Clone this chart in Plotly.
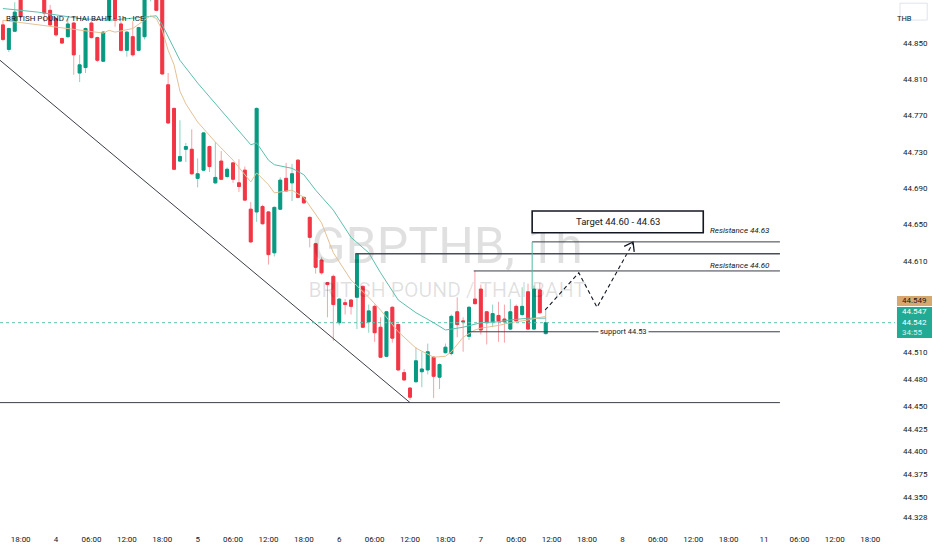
import numpy as np
import plotly.graph_objects as go

# hourly candles, x = hours counted from day 3 00:00
hours = list(range(15, 108))
opens = [44.870, 44.843, 44.863, 44.905, 44.900, 44.915, 44.903, 44.910, 44.886, 44.877,
         44.855, 44.857, 44.872, 44.817, 44.823, 44.872, 44.856, 44.830, 44.875, 44.900,
         44.871, 44.842, 44.857, 44.842, 44.857, 44.898, 44.903, 44.900, 44.804, 44.778,
         44.720, 44.733, 44.733, 44.701, 44.710, 44.736, 44.696, 44.720, 44.703, 44.718,
         44.696, 44.710, 44.667, 44.664, 44.670, 44.664, 44.619, 44.667, 44.701, 44.696,
         44.721, 44.680, 44.658, 44.629, 44.611, 44.586, 44.593, 44.542, 44.564, 44.567,
         44.570, 44.582, 44.543, 44.560, 44.537, 44.505, 44.559, 44.540, 44.487, 44.470,
         44.477, 44.488, 44.490, 44.504, 44.482, 44.509, 44.508, 44.554, 44.544, 44.527,
         44.568, 44.579, 44.554, 44.543, 44.550, 44.546, 44.535, 44.560, 44.551, 44.576,
         44.535, 44.578, 44.530]
highs = [44.875, 44.867, 44.895, 44.910, 44.920, 44.920, 44.918, 44.915, 44.892, 44.878,
         44.856, 44.877, 44.873, 44.837, 44.867, 44.874, 44.857, 44.863, 44.908, 44.905,
         44.874, 44.863, 44.874, 44.868, 44.905, 44.922, 44.910, 44.906, 44.817, 44.779,
         44.765, 44.740, 44.755, 44.723, 44.752, 44.737, 44.741, 44.731, 44.713, 44.719,
         44.722, 44.714, 44.675, 44.779, 44.672, 44.665, 44.670, 44.702, 44.718, 44.717,
         44.722, 44.681, 44.659, 44.630, 44.614, 44.587, 44.595, 44.569, 44.568, 44.568,
         44.619, 44.583, 44.562, 44.562, 44.548, 44.555, 44.560, 44.541, 44.491, 44.471,
         44.515, 44.510, 44.519, 44.505, 44.497, 44.519, 44.551, 44.570, 44.548, 44.560,
         44.599, 44.584, 44.555, 44.562, 44.565, 44.562, 44.568, 44.562, 44.581, 44.585,
         44.583, 44.586, 44.556]
lows = [44.852, 44.840, 44.863, 44.877, 44.898, 44.900, 44.899, 44.873, 44.868, 44.857,
        44.849, 44.856, 44.815, 44.807, 44.817, 44.855, 44.829, 44.829, 44.874, 44.868,
        44.841, 44.835, 44.835, 44.841, 44.854, 44.896, 44.885, 44.815, 44.761, 44.710,
        44.719, 44.719, 44.705, 44.691, 44.709, 44.708, 44.695, 44.699, 44.701, 44.696,
        44.686, 44.676, 44.630, 44.653, 44.650, 44.606, 44.615, 44.666, 44.686, 44.676,
        44.679, 44.673, 44.625, 44.596, 44.595, 44.548, 44.522, 44.539, 44.551, 44.551,
        44.535, 44.536, 44.531, 44.521, 44.503, 44.504, 44.520, 44.489, 44.478, 44.457,
        44.476, 44.471, 44.485, 44.459, 44.469, 44.508, 44.506, 44.526, 44.510, 44.523,
        44.562, 44.529, 44.518, 44.537, 44.521, 44.520, 44.534, 44.543, 44.549, 44.534,
        44.534, 44.552, 44.529]
closes = [44.854, 44.866, 44.884, 44.879, 44.915, 44.905, 44.912, 44.883, 44.870, 44.859,
          44.850, 44.871, 44.837, 44.826, 44.866, 44.856, 44.831, 44.862, 44.903, 44.875,
          44.842, 44.862, 44.837, 44.867, 44.899, 44.915, 44.886, 44.816, 44.762, 44.711,
          44.725, 44.736, 44.706, 44.706, 44.751, 44.714, 44.702, 44.700, 44.711, 44.700,
          44.692, 44.677, 44.631, 44.778, 44.651, 44.617, 44.669, 44.699, 44.687, 44.706,
          44.680, 44.674, 44.636, 44.603, 44.597, 44.584, 44.562, 44.568, 44.562, 44.560,
          44.618, 44.537, 44.555, 44.531, 44.504, 44.554, 44.525, 44.490, 44.479, 44.460,
          44.500, 44.491, 44.510, 44.483, 44.496, 44.515, 44.549, 44.540, 44.543, 44.559,
          44.563, 44.534, 44.542, 44.552, 44.544, 44.543, 44.554, 44.544, 44.560, 44.535,
          44.579, 44.553, 44.542]

# moving averages
teal_h = [15, 21, 28, 33, 38, 41, 42, 45, 48, 52, 57, 58, 60, 61, 64, 66, 68, 71, 74, 77,
          79, 82, 85, 88, 90, 93, 96, 99, 101, 104, 107]
teal_p = [44.888, 44.884, 44.877, 44.875, 44.878, 44.880, 44.870, 44.831, 44.806, 44.776,
          44.738, 44.740, 44.721, 44.716, 44.712, 44.705, 44.688, 44.666, 44.636, 44.619,
          44.597, 44.567, 44.553, 44.542, 44.534, 44.537, 44.542, 44.543, 44.545, 44.547, 44.547]
tan_h = [15, 21, 28, 32, 33, 34, 37, 39, 40, 41, 42, 43, 44, 45, 46, 48, 51, 54, 57, 58,
         60, 61, 62, 64, 66, 68, 69, 71, 74, 77, 79, 82, 85, 88, 90, 91, 93, 95, 96, 99,
         101, 104, 107]
tan_p = [44.875, 44.870, 44.864, 44.861, 44.864, 44.862, 44.866, 44.875, 44.880, 44.877,
         44.864, 44.842, 44.826, 44.797, 44.783, 44.763, 44.741, 44.721, 44.697, 44.707,
         44.694, 44.685, 44.686, 44.688, 44.680, 44.661, 44.652, 44.619, 44.589, 44.570,
         44.556, 44.532, 44.514, 44.504, 44.505, 44.510, 44.526, 44.534, 44.536, 44.539,
         44.542, 44.545, 44.549]

# axes
y_ticks = [44.850, 44.810, 44.770, 44.730, 44.690, 44.650, 44.610, 44.510, 44.480,
           44.450, 44.425, 44.400, 44.375, 44.350, 44.328]
x_tick_hours = [18, 24, 30, 36, 42, 48, 54, 60, 66, 72, 78, 84, 90, 96, 102, 108, 114, 120,
                126, 132, 138, 144, 150, 156, 162]
x_tick_text = ['18:00', '4', '06:00', '12:00', '18:00', '5', '06:00', '12:00', '18:00', '6',
               '06:00', '12:00', '18:00', '7', '06:00', '12:00', '18:00', '8', '06:00', '12:00',
               '18:00', '11', '06:00', '12:00', '18:00']

# drawings
last_price = 44.542
res_63 = 44.631
res_mid = 44.618
res_60 = 44.599
support = 44.532
floor_level = 44.454
trend_h = [14.5, 84]
trend_p = [44.831, 44.454]
path_h = [106.9, 112.6, 115.7, 121.8]
path_p = [44.556, 44.597, 44.559, 44.630]
head_h = [120.3, 121.8, 122.0]
head_p = [44.626, 44.631, 44.620]

GREEN = '#089981'
RED = '#f23645'
FONT = 'Roboto'

fig = go.Figure()

# watermark under everything
fig.add_trace(go.Scatter(x=[90.3], y=[44.622], mode='text', text=['GBPTHB, 1h'],
                         textfont=dict(size=50, color='rgba(0,0,0,0.12)', family=FONT),
                         hoverinfo='skip', showlegend=False))
fig.add_trace(go.Scatter(x=[90.3], y=[44.576], mode='text', text=['BRITISH POUND / THAI BAHT'],
                         textfont=dict(size=21, color='rgba(0,0,0,0.12)', family=FONT),
                         hoverinfo='skip', showlegend=False))

fig.add_trace(go.Scatter(x=teal_h, y=teal_p, mode='lines', line=dict(color='#5cc0ad', width=1),
                         hoverinfo='skip', showlegend=False))
fig.add_trace(go.Scatter(x=tan_h, y=tan_p, mode='lines', line=dict(color='#e3c196', width=1),
                         hoverinfo='skip', showlegend=False))

# wicks (light) then bodies (strong)
fig.add_trace(go.Candlestick(x=hours, open=opens, high=highs, low=lows, close=closes,
                             increasing=dict(line=dict(color='#8fd0c3', width=1), fillcolor='#8fd0c3'),
                             decreasing=dict(line=dict(color='#f7a3aa', width=1), fillcolor='#f7a3aa'),
                             showlegend=False))
body_hi = np.maximum(opens, closes)
body_lo = np.minimum(opens, closes)
fig.add_trace(go.Candlestick(x=hours, open=opens, high=body_hi, low=body_lo, close=closes,
                             increasing=dict(line=dict(color=GREEN, width=1), fillcolor=GREEN),
                             decreasing=dict(line=dict(color=RED, width=1), fillcolor=RED),
                             showlegend=False))

# trend lines
line_style = dict(color='#3b3e48', width=1)
fig.add_trace(go.Scatter(x=trend_h, y=trend_p, mode='lines', line=line_style,
                         hoverinfo='skip', showlegend=False))
fig.add_trace(go.Scatter(x=path_h, y=path_p, mode='lines', line=dict(color='#131722', width=1.1, dash='4px,3px'),
                         hoverinfo='skip', showlegend=False))
fig.add_trace(go.Scatter(x=head_h, y=head_p, mode='lines', line=dict(color='#131722', width=1.3),
                         hoverinfo='skip', showlegend=False))

x_end = 146.7
fig.add_shape(type='line', x0=14, x1=x_end, y0=floor_level, y1=floor_level, line=line_style)
fig.add_shape(type='line', x0=93.8, x1=x_end, y0=support, y1=support, line=line_style)
fig.add_shape(type='line', x0=94.8, x1=x_end, y0=res_60, y1=res_60, line=line_style)
fig.add_shape(type='line', x0=74.8, x1=x_end, y0=res_mid, y1=res_mid, line=dict(color='#4a4d57', width=1.5))
fig.add_shape(type='line', x0=104.7, x1=x_end, y0=res_63, y1=res_63, line=line_style)
fig.add_shape(type='line', x0=104.7, x1=104.7, y0=closes[90], y1=res_63, line=dict(color='#4fb9a4', width=1))
fig.add_shape(type='rect', x0=104.7, x1=133.7, y0=44.641, y1=44.665,
              line=dict(color='#131722', width=1.6), fillcolor='white')
fig.add_shape(type='line', xref='paper', x0=0, x1=1, y0=last_price, y1=last_price,
              line=dict(color='#5cc0ad', width=1, dash='dot'))

ann = []
ann.append(dict(x=119.2, y=44.653, text='Target 44.60 - 44.63', showarrow=False,
                font=dict(size=9.5, color='#131722', family=FONT)))
ann.append(dict(x=145.3, y=44.643, text='Resistance 44.63', showarrow=False, xanchor='right',
                font=dict(size=8, color='#131722', family=FONT, style='italic')))
ann.append(dict(x=145.3, y=44.6055, text='Resistance 44.60', showarrow=False, xanchor='right',
                font=dict(size=8, color='#131722', family=FONT, style='italic')))
ann.append(dict(x=120.1, y=support, text='support 44.53', showarrow=False, bgcolor='white',
                borderpad=1, font=dict(size=7.5, color='#131722', family=FONT)))
ann.append(dict(xref='paper', yref='paper', x=0.005, y=0.977, xanchor='left',
                text='BRITISH POUND / THAI BAHT · 1h · ICE', showarrow=False,
                font=dict(size=8, color='#131722', family=FONT)))

# right side price tags
fig.add_shape(type='rect', xref='paper', x0=1.0022, x1=1.045, y0=44.5604, y1=44.5714,
              line=dict(width=0), fillcolor='#d7a86e')
fig.add_shape(type='rect', xref='paper', x0=1.0022, x1=1.045, y0=44.5252, y1=44.5593,
              line=dict(width=0), fillcolor='#22ab94')
fig.add_shape(type='rect', xref='paper', yref='paper', x0=1.0056, x1=1.036, y0=0.962, y1=0.994,
              line=dict(color='#e0e3eb', width=1), fillcolor='white')
tag_font = dict(size=8, family=FONT)
ann.append(dict(xref='paper', x=1.006, y=44.566, xanchor='left', text='44.549', showarrow=False,
                font=dict(color='#131722', **tag_font)))
ann.append(dict(xref='paper', x=1.006, y=44.5545, xanchor='left', text='44.547', showarrow=False,
                font=dict(color='white', **tag_font)))
ann.append(dict(xref='paper', x=1.006, y=44.5425, xanchor='left', text='44.542', showarrow=False,
                font=dict(color='white', **tag_font)))
ann.append(dict(xref='paper', x=1.006, y=44.5315, xanchor='left', text='34:55', showarrow=False,
                font=dict(color='#d8f2ec', **tag_font)))
ann.append(dict(xref='paper', yref='paper', x=1.0208, y=0.978, text='THB', showarrow=False,
                font=dict(color='#131722', size=7.5, family=FONT)))

fig.update_layout(
    width=932, height=550,
    margin=dict(l=0, r=37, t=0, b=22),
    paper_bgcolor='white', plot_bgcolor='white',
    showlegend=False,
    annotations=ann,
    xaxis=dict(range=[14.5, 166.2], tickmode='array', tickvals=x_tick_hours, ticktext=x_tick_text,
               showgrid=False, zeroline=False, showline=False, ticks='', ticklabelstandoff=5,
               tickfont=dict(size=8, color='#131722', family=FONT),
               rangeslider=dict(visible=False), fixedrange=True),
    yaxis=dict(range=[44.3159, 44.8974], side='right', tickmode='array', tickvals=y_ticks,
               ticktext=['%.3f' % v for v in y_ticks], showgrid=False, zeroline=False,
               showline=False, ticks='', ticklabelstandoff=7,
               tickfont=dict(size=8, color='#131722', family=FONT), fixedrange=True),
)

# drop the browser's default body margin so the figure sits at the page corner
fig.write_html("out.html", config={'displayModeBar': False},
               post_script="document.body.style.margin='0';document.body.style.overflow='hidden';")
